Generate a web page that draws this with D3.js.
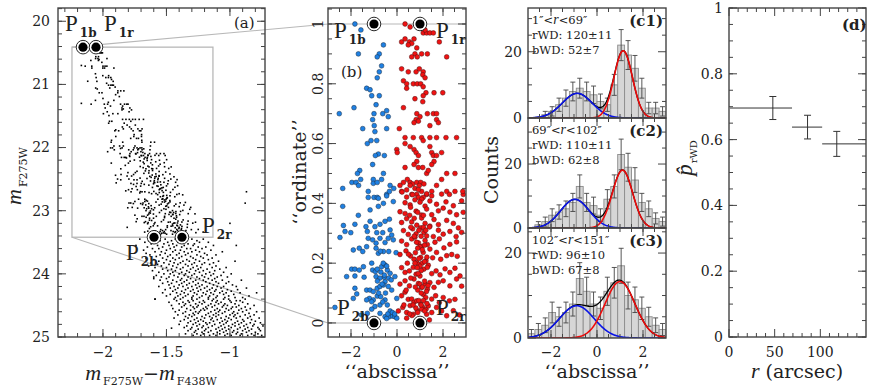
<!DOCTYPE html>
<html>
<head>
<meta charset="utf-8">
<script src="https://cdn.jsdelivr.net/npm/d3@7"></script>
<style>
  body { margin: 0; background: #fff; }
  svg text { font-family: "DejaVu Serif", serif; fill: #222; }
</style>
</head>
<body>
<svg id="chart" width="872" height="387"></svg>
<script>
// ---- fiducial points P1b, P1r, P2b, P2r ----
let fidNames = ['1b', '1r', '2b', '2r']
let fidColor = [-2.157, -2.055, -1.598, -1.378]
let fidMag = [20.41, 20.41, 23.42, 23.42]
let fidAbsc = [-1, 1, -1, 1]
let fidOrd = [1, 1, 0, 0]
let boxColor = [-2.244, -1.134]
let boxMag = [20.41, 23.42]

// ---- panel (b): stars in abscissa / ordinate ----
let blueStars = [
  [-1.83,1.00],[-1.57,0.98],[-1.68,0.90],[-0.59,0.93],[-0.77,0.90],[-0.86,0.89],[-0.67,0.86],[-0.77,0.84],
  [-0.86,0.82],[-1.32,0.785],[-1.17,0.78],[-1.10,0.76],[-0.77,0.76],[-0.91,0.73],[-1.87,0.72],[-2.51,0.70],
  [-0.45,0.71],[-0.62,0.70],[-0.38,0.69],[-1.00,0.70],[-1.06,0.68],[-1.49,0.65],[-0.99,0.66],[-0.45,0.65],
  [-0.96,0.64],[-0.88,0.61],[-1.29,0.60],[-1.13,0.61],[-0.81,0.565],[-0.55,0.56],[-0.94,0.56],[-1.06,0.53],
  [-1.62,0.51],[-1.72,0.50],[-1.96,0.47],[-1.78,0.47],[-1.58,0.48],[-1.67,0.46],[-1.03,0.48],[-1.03,0.467],
  [-0.86,0.47],[-0.59,0.50],[-0.67,0.48],[-0.30,0.46],[-2.36,0.45],[-1.25,0.44],[-1.00,0.42],[-0.86,0.42],
  [-0.45,0.43],[-0.14,0.45],[-2.33,0.326],[-1.83,0.33],[-1.68,0.36],[-1.17,0.378],[-0.81,0.39],[-0.59,0.40],
  [-0.81,0.417],[-1.25,0.42],[-0.45,0.425],[-0.16,0.406],[-0.33,0.44],[-2.48,0.286],[-2.26,0.306],[-2.01,0.302],
  [-1.35,0.322],[-1.17,0.34],[-0.96,0.322],[-0.74,0.33],[-0.52,0.34],[-0.33,0.347],[-1.29,0.306],[-0.88,0.302],
  [-0.62,0.302],[-0.30,0.311],[-0.23,0.294],[-1.25,0.283],[-1.06,0.278],[-0.91,0.267],[-0.74,0.283],[-0.52,0.269],
  [-0.38,0.283],[-0.16,0.278],[-1.90,0.244],[-1.64,0.25],[-1.49,0.239],[-1.32,0.255],[-0.91,0.25],[-0.81,0.233],
  [-0.59,0.239],[-0.36,0.239],[-0.04,0.235],[-1.97,0.18],[-1.83,0.18],[-1.64,0.177],[-1.46,0.188],[-1.10,0.20],
  [-1.06,0.177],[-0.94,0.172],[-0.86,0.18],[-0.67,0.188],[-0.52,0.194],[-0.42,0.177],[-0.30,0.166],[-0.56,0.153],
  [-0.36,0.15],[-0.25,0.144],[-0.09,0.155],[-2.19,0.155],[-1.83,0.157],[-1.43,0.153],[-0.91,0.155],[-0.74,0.15],
  [-0.52,0.138],[-1.83,0.116],[-1.32,0.11],[-1.17,0.11],[-1.03,0.105],[-0.86,0.116],[-0.74,0.122],[-0.59,0.127],
  [-0.38,0.122],[-0.23,0.11],[-1.75,0.097],[-1.20,0.082],[-1.03,0.077],[-0.86,0.09],[-0.71,0.088],[-0.52,0.077],
  [-0.42,0.06],[-0.74,0.06],[-0.96,0.055],[-1.10,0.046],[-1.29,0.032],[-1.54,0.027],[-0.74,0.032],[-0.52,0.021],
  [-0.33,0.021],[-0.19,0.023],[-0.09,0.021],[-0.01,0.016],[-0.45,0.015],[-2.70,0.052],[-0.01,0.082],[-1.32,0.077],
  [-1.10,0.071],[-1.90,0.082],[-2.36,0.39],[-0.60,0.20],[-0.70,0.17],[-0.55,0.16],[-0.65,0.13],[-0.80,0.10],
  [-0.50,0.10],[-0.62,0.07],[-0.85,0.14],[-0.45,0.19],[-0.72,0.24],[-0.30,0.04],[-0.20,0.035],[-0.40,0.03],[-0.10,0.03]
]
let redStars = [
  [0.35,1.00],[0.57,0.99],[0.97,1.00],[1.14,0.97],[1.29,0.97],[1.43,0.97],[1.58,0.97],[1.22,0.98],
  [0.20,0.94],[0.35,0.95],[0.54,0.94],[0.64,0.935],[0.74,0.95],[0.49,0.93],[0.86,0.92],[1.07,0.90],
  [0.78,0.90],[1.32,0.90],[0.64,0.89],[0.88,0.89],[1.84,0.94],[2.16,0.89],[0.20,0.85],[0.49,0.84],
  [0.83,0.84],[0.97,0.85],[1.14,0.84],[1.12,0.83],[1.22,0.82],[0.28,0.81],[0.42,0.80],[0.71,0.80],
  [0.88,0.80],[1.03,0.80],[1.14,0.79],[0.42,0.785],[1.26,0.77],[1.61,0.77],[1.99,0.77],[1.14,0.76],
  [1.12,0.74],[0.78,0.75],[0.28,0.72],[0.86,0.70],[1.00,0.69],[0.83,0.68],[0.93,0.675],[0.74,0.67],
  [1.32,0.70],[1.58,0.70],[1.72,0.70],[1.72,0.68],[1.80,0.67],[1.43,0.66],[0.10,0.65],[0.35,0.62],
  [0.71,0.62],[1.07,0.62],[1.14,0.61],[1.43,0.62],[1.72,0.62],[2.13,0.62],[2.59,0.62],[-0.01,0.58],
  [0.01,0.57],[0.35,0.60],[0.57,0.59],[0.74,0.58],[0.83,0.57],[0.93,0.56],[0.86,0.54],[0.74,0.53],
  [0.93,0.52],[1.12,0.52],[1.29,0.50],[1.43,0.59],[1.51,0.57],[1.58,0.56],[1.61,0.54],[1.51,0.53],
  [1.72,0.56],[1.94,0.57],[1.36,0.51],[2.16,0.50],[2.52,0.50],[0.35,0.52],[0.45,0.48],[0.57,0.47],
  [0.68,0.465],[0.86,0.47],[1.03,0.47],[1.17,0.465],[0.97,0.46],[0.78,0.45],[0.57,0.46],[0.42,0.445],
  [0.20,0.44],[0.64,0.43],[0.86,0.43],[1.07,0.44],[1.29,0.43],[1.51,0.44],[1.72,0.46],[1.94,0.48],
  [2.16,0.44],[2.28,0.43],[2.52,0.44],[2.88,0.43],[0.28,0.47],[0.13,0.46],[0.93,0.42],[1.14,0.42],
  [0.22,0.438],[0.42,0.421],[0.68,0.429],[0.93,0.446],[1.07,0.414],[1.29,0.432],[1.51,0.425],[0.35,0.402],
  [0.57,0.395],[0.78,0.412],[1.00,0.404],[1.22,0.391],[1.43,0.408],[1.72,0.397],[1.94,0.431],[2.13,0.405],
  [2.45,0.392],[2.81,0.408],[2.86,0.44],[0.13,0.372],[0.35,0.366],[0.59,0.387],[0.83,0.374],[1.07,0.361],
  [1.29,0.381],[1.51,0.362],[1.80,0.375],[2.01,0.384],[2.30,0.371],[2.59,0.362],[2.88,0.37],[0.20,0.336],
  [0.42,0.349],[0.64,0.338],[0.86,0.327],[1.07,0.351],[1.22,0.333],[1.43,0.324],[1.61,0.346],[1.80,0.329],
  [2.16,0.343],[2.45,0.333],[2.67,0.318],[0.28,0.309],[0.49,0.296],[0.68,0.315],[0.83,0.298],[1.03,0.318],
  [1.17,0.303],[1.29,0.291],[1.41,0.321],[1.58,0.289],[1.80,0.31],[2.01,0.297],[2.30,0.306],[2.57,0.289],
  [2.81,0.303],[0.20,0.274],[0.42,0.262],[0.64,0.281],[0.78,0.287],[0.93,0.268],[1.07,0.256],[1.22,0.276],
  [1.32,0.262],[1.43,0.247],[1.65,0.27],[1.84,0.281],[2.04,0.251],[2.30,0.263],[2.59,0.271],[0.13,0.229],
  [0.39,0.241],[0.59,0.224],[0.74,0.213],[0.86,0.202],[0.94,0.196],[1.03,0.219],[1.14,0.236],[1.26,0.208],
  [1.36,0.193],[1.55,0.218],[1.72,0.236],[1.90,0.213],[2.16,0.225],[2.38,0.229],[2.62,0.223],[0.20,0.185],
  [0.35,0.169],[0.54,0.174],[0.71,0.186],[0.83,0.163],[1.00,0.157],[1.17,0.18],[1.32,0.186],[1.51,0.165],
  [1.70,0.174],[1.87,0.161],[2.09,0.181],[2.30,0.169],[2.52,0.183],[2.74,0.157],[0.13,0.13],[0.35,0.141],
  [0.54,0.124],[0.74,0.147],[0.93,0.132],[1.07,0.119],[1.22,0.13],[1.32,0.113],[1.43,0.135],[1.61,0.119],
  [1.80,0.136],[2.01,0.141],[2.30,0.124],[2.59,0.147],[2.81,0.123],[0.20,0.091],[0.35,0.103],[0.49,0.079],
  [0.64,0.08],[0.74,0.069],[0.86,0.074],[1.03,0.063],[1.12,0.052],[1.26,0.046],[1.36,0.057],[1.51,0.08],
  [1.68,0.091],[1.84,0.068],[2.01,0.085],[2.28,0.074],[2.52,0.079],[0.06,0.04],[0.25,0.052],[0.42,0.035],
  [0.57,0.058],[0.71,0.029],[0.88,0.041],[1.07,0.046],[1.29,0.029],[1.51,0.035],[1.72,0.052],[1.94,0.04],
  [2.16,0.024],[2.45,0.041],[2.71,0.027],[0.42,0.016],[1.41,0.01],[0.95,0.31],[1.05,0.29],[1.15,0.32],
  [0.85,0.27],[1.25,0.31],[1.00,0.255],[0.90,0.25],[1.10,0.245],[1.20,0.26],[0.75,0.29],[0.80,0.235],
  [0.95,0.215],[1.10,0.20],[1.00,0.19],[0.88,0.185],[0.78,0.20],[1.20,0.205],[1.30,0.22],[1.05,0.175],
  [0.92,0.165],[1.00,0.13],[1.10,0.12],[1.20,0.14],[0.90,0.11],[1.28,0.105],[1.15,0.095],[1.05,0.10],
  [1.35,0.125],[0.80,0.12],[1.25,0.085],[0.95,0.075],[1.05,0.06],[1.15,0.075],[0.82,0.05],[0.90,0.035],
  [1.20,0.04],[1.30,0.065],[0.70,0.06],[0.65,0.025],[0.55,0.03],[0.55,0.36],[0.75,0.35],[0.90,0.37],
  [1.15,0.36],[0.60,0.32],[0.50,0.23],[0.45,0.20],[0.60,0.15],[0.40,0.11],[0.30,0.06]
]

// ---- panel (a): faint stars below the box (colours at each magnitude row) ----
let faintMags = [23.45,23.475,23.50,23.525,23.55,23.575,23.60,23.625,23.65,23.675,23.70,23.725,23.75,23.775,
  23.80,23.825,23.85,23.875,23.90,23.925,23.95,23.975,24.00,24.025,24.05,24.075,24.10,24.125,24.15,24.175,
  24.20,24.225,24.25,24.275,24.30,24.325,24.35,24.375,24.40,24.425,24.45,24.475,24.50,24.525,24.55,24.575,
  24.60,24.625,24.65,24.675,24.70,24.725,24.75,24.775,24.80,24.825,24.85,24.875,24.90,24.925,24.95,24.975]
let faintColors = [
  [-1.71,-1.58,-1.51,-1.43,-1.39,-1.30,-1.21],[-1.64,-1.55,-1.46,-1.35,-1.26],
  [-1.67,-1.60,-1.49,-1.41,-1.37,-1.24,-1.17],[-1.62,-1.52,-1.45,-1.33,-1.28],
  [-1.74,-1.57,-1.48,-1.42,-1.36,-1.29,-1.13],[-1.65,-1.53,-1.44,-1.38,-1.25,-1.19],
  [-1.61,-1.56,-1.47,-1.34,-1.31,-1.22],[-1.68,-1.50,-1.43,-1.39,-1.27,-1.15],
  [-1.59,-1.54,-1.45,-1.36,-1.30,-1.24,-1.06],[-1.66,-1.51,-1.40,-1.33,-1.20],
  [-1.63,-1.55,-1.47,-1.42,-1.35,-1.26,-1.18,-1.11],[-1.58,-1.49,-1.38,-1.31,-1.23],
  [-1.66,-1.53,-1.45,-1.40,-1.29,-1.21,-1.14],[-1.60,-1.50,-1.43,-1.34,-1.27,-1.17],
  [-1.56,-1.47,-1.37,-1.32,-1.24,-1.09,-0.96],[-1.62,-1.52,-1.44,-1.39,-1.28,-1.20,-1.13],
  [-1.57,-1.48,-1.41,-1.35,-1.30,-1.22,-1.16],[-1.64,-1.54,-1.45,-1.33,-1.26,-1.11],
  [-1.59,-1.50,-1.42,-1.37,-1.29,-1.23,-1.14,-1.03],[-1.53,-1.46,-1.39,-1.31,-1.25,-1.18,-1.08],
  [-1.61,-1.49,-1.43,-1.34,-1.27,-1.21,-1.12],[-1.56,-1.45,-1.38,-1.32,-1.24,-1.16,-1.05],
  [-1.52,-1.47,-1.40,-1.35,-1.28,-1.19,-1.13,-0.99],[-1.58,-1.44,-1.36,-1.30,-1.22,-1.15,-1.07],
  [-1.54,-1.48,-1.41,-1.33,-1.26,-1.20,-1.10,-1.02],[-1.60,-1.50,-1.38,-1.31,-1.24,-1.17,-1.12],
  [-1.55,-1.45,-1.39,-1.34,-1.27,-1.21,-1.14,-1.06,-0.91],[-1.49,-1.42,-1.36,-1.29,-1.19,-1.11,-1.01],
  [-1.53,-1.46,-1.38,-1.32,-1.25,-1.16,-1.09,-1.03],[-1.48,-1.40,-1.34,-1.27,-1.22,-1.13,-0.98],
  [-1.56,-1.44,-1.37,-1.30,-1.24,-1.18,-1.10,-1.05,-0.95],[-1.47,-1.41,-1.33,-1.26,-1.20,-1.14,-1.07,-0.87],
  [-1.51,-1.43,-1.35,-1.29,-1.23,-1.16,-1.11,-1.02,-0.94],[-1.45,-1.38,-1.31,-1.25,-1.18,-1.12,-1.06,-0.99],
  [-1.53,-1.42,-1.36,-1.28,-1.21,-1.15,-1.08,-1.03,-0.92],[-1.47,-1.39,-1.33,-1.26,-1.19,-1.13,-1.05,-0.97],
  [-1.50,-1.41,-1.35,-1.29,-1.22,-1.16,-1.10,-1.01,-0.85],[-1.43,-1.37,-1.30,-1.24,-1.17,-1.11,-1.04,-0.96,-0.90],
  [-1.59,-1.44,-1.39,-1.30,-1.26,-1.17,-1.13,-1.05,-1.01,-0.88],[-1.42,-1.33,-1.29,-1.21,-1.14,-1.10,-1.00,-0.95,-0.92],
  [-1.48,-1.37,-1.32,-1.24,-1.20,-1.11,-1.07,-0.99,-0.90],[-1.40,-1.35,-1.27,-1.22,-1.15,-1.09,-1.04,-0.96,-0.86],
  [-1.46,-1.36,-1.31,-1.25,-1.17,-1.12,-1.05,-1.02,-0.93,-0.81],[-1.38,-1.29,-1.26,-1.19,-1.14,-1.06,-0.98,-0.95,-0.88],
  [-1.45,-1.34,-1.28,-1.21,-1.18,-1.10,-1.03,-0.99,-0.91,-0.84],[-1.40,-1.31,-1.23,-1.20,-1.12,-1.08,-1.01,-0.93,-0.87],
  [-1.43,-1.35,-1.27,-1.24,-1.15,-1.09,-1.04,-0.97,-0.90,-0.79],[-1.37,-1.29,-1.25,-1.17,-1.11,-1.06,-0.98,-0.94,-0.85],
  [-1.41,-1.32,-1.28,-1.19,-1.13,-1.09,-1.00,-0.96,-0.88,-0.81],[-1.35,-1.30,-1.22,-1.16,-1.11,-1.03,-0.97,-0.92,-0.84],
  [-1.44,-1.33,-1.26,-1.20,-1.14,-1.07,-1.01,-0.95,-0.86,-0.77],[-1.36,-1.28,-1.23,-1.15,-1.10,-1.04,-0.99,-0.90,-0.83],
  [-1.39,-1.31,-1.25,-1.21,-1.13,-1.06,-1.02,-0.94,-0.89,-0.80],[-1.33,-1.27,-1.19,-1.16,-1.08,-1.03,-0.96,-0.91,-0.84,-0.76],
  [-1.40,-1.29,-1.24,-1.18,-1.12,-1.05,-0.98,-0.93,-0.87,-0.81],[-1.34,-1.26,-1.21,-1.14,-1.07,-1.01,-0.96,-0.89,-0.82,-0.74],
  [-1.36,-1.30,-1.22,-1.17,-1.09,-1.04,-0.99,-0.92,-0.86,-0.78],[-1.31,-1.25,-1.19,-1.11,-1.06,-1.01,-0.94,-0.88,-0.83,-0.77],
  [-1.33,-1.27,-1.20,-1.15,-1.08,-1.03,-0.97,-0.90,-0.85,-0.76],[-1.28,-1.22,-1.17,-1.10,-1.05,-0.98,-0.94,-0.87,-0.80],
  [-1.35,-1.26,-1.21,-1.13,-1.08,-1.02,-0.95,-0.91,-0.83,-0.78],[-1.29,-1.23,-1.16,-1.11,-1.04,-0.99,-0.92,-0.86,-0.81,-0.75]
]
let strayStars = [[-0.87,22.70],[-0.88,22.88],[-0.79,24.30],[-1.59,24.40],[-1.60,24.05],[-1.46,24.86],
  [-0.95,23.55],[-1.00,23.20],[-2.17,21.30],[-2.17,20.70],[-2.12,20.95]]

// ---- panel (c): histograms, bin width 0.3 from -3 ----
let binLeft = [-3,-2.7,-2.4,-2.1,-1.8,-1.5,-1.2,-0.9,-0.6,-0.3,0,0.3,0.6,0.9,1.2,1.5,1.8,2.1,2.4,2.7]
let countsC1 = [0,0,1,2,4,6,8,9,8,7,5,4,10,22,19,15,9,3,3,2]
let countsC2 = [0,1,2,4,5,6,8,13,8,7,4,9,13,23,19,15,8,6,3,2]
let countsC3 = [1,2,3,6,5,6,8,14,11,8,7,11,13,17,10,9,7,5,3,2]
let cYMax = [33.2, 34.4, 25.9]
let fitBlueAmp = [7.45, 8.96, 7.6]
let fitBlueMu = [-0.86, -0.96, -0.88]
let fitBlueSig = [0.65, 0.62, 0.75]
let fitRedAmp = [20.3, 18.1, 13.3]
let fitRedMu = [1.14, 1.11, 1.0]
let fitRedSig = [0.40, 0.44, 0.65]
let rangeLo = ['1', '69', '102']
let rangeHi = ['69', '102', '151']
let rwdText = ['120±11', '110±11', '96±10']
let bwdText = ['52±7', '62±8', '67±8']
let cNames = ['(c1)', '(c2)', '(c3)']

// ---- panel (d): fraction of rWD vs radius ----
let radLo = [1, 69, 102]
let radHi = [69, 102, 151]
let radMid = [48, 86, 118]
let pRwd = [0.696, 0.638, 0.587]
let pErr = [0.035, 0.036, 0.038]

let svg = d3.select('#chart')

// scales
let xA = d3.scaleLinear().domain([-2.354, -0.724]).range([58, 265])
let yA = d3.scaleLinear().domain([25, 19.79]).range([337, 8])
let xB = d3.scaleLinear().domain([-3, 3]).range([328, 466])
let yB = d3.scaleLinear().domain([-0.047, 1.0535]).range([337, 8])
let xC = d3.scaleLinear().domain([-3, 3]).range([528, 666])
let cTop = [8, 118, 228]
let yC = cYMax.map((m, i) => d3.scaleLinear().domain([0, m]).range([cTop[i] + 110, cTop[i]]))
let xD = d3.scaleLinear().domain([0, 150]).range([729, 866])
let yD = d3.scaleLinear().domain([0, 1]).range([337, 8])

let defs = svg.append('defs')
let clipId = 0
let clipTo = (x, y) => {
    let id = 'clip' + (clipId++)
    let [l, r] = x.range(), [b, t] = y.range()
    defs.append('clipPath').attr('id', id)
        .append('rect').attr('x', l).attr('y', t).attr('width', r - l).attr('height', b - t)
    return 'url(#' + id + ')'
}

let drawFrame = (x, y, xMaj, xMin, yMaj, yMin) => {
    let g = svg.append('g').attr('stroke', '#444').attr('fill', 'none').attr('stroke-width', 1)
    let [l, r] = x.range(), [b, t] = y.range()
    let xt = (vals, len) => vals.forEach(v => {
        g.append('line').attr('x1', x(v)).attr('x2', x(v)).attr('y1', b).attr('y2', b - len)
        g.append('line').attr('x1', x(v)).attr('x2', x(v)).attr('y1', t).attr('y2', t + len)
    })
    let yt = (vals, len) => vals.forEach(v => {
        g.append('line').attr('x1', l).attr('x2', l + len).attr('y1', y(v)).attr('y2', y(v))
        g.append('line').attr('x1', r).attr('x2', r - len).attr('y1', y(v)).attr('y2', y(v))
    })
    xt(xMin, 4); xt(xMaj, 8); yt(yMin, 4); yt(yMaj, 8)
    g.append('rect').attr('x', l).attr('y', t).attr('width', r - l).attr('height', b - t)
        .attr('stroke-width', 1.4)
}

let fmt = v => String(v).replace('-', '\u2212')

let xLabels = (x, vals) => {
    svg.append('g').selectAll('text').data(vals).join('text')
        .attr('x', d => x(d)).attr('y', 357).attr('text-anchor', 'middle')
        .attr('font-size', 14).text(d => fmt(d))
}
let yLabels = (y, vals, xPos) => {
    svg.append('g').selectAll('text').data(vals).join('text')
        .attr('x', xPos).attr('y', d => y(d)).attr('dy', '0.35em').attr('text-anchor', 'end')
        .attr('font-size', 14).text(d => fmt(d))
}

let pLabel = (x, y, sub) => {
    let t = svg.append('text').attr('x', x).attr('y', y)
        .style('font-family', '"Liberation Serif", serif').attr('font-size', 23)
    t.append('tspan').text('P')
    t.append('tspan').attr('font-size', 12).attr('font-weight', 'bold')
        .style('font-family', '"DejaVu Serif", serif').attr('dx', 2).attr('dy', 6).text(sub)
}

let fiducialMarks = (x, y, px, py) => {
    let g = svg.append('g')
    fidNames.forEach((n, i) => {
        g.append('circle').attr('cx', x(px[i])).attr('cy', y(py[i])).attr('r', 6.8)
            .attr('fill', '#fff').attr('stroke', '#111').attr('stroke-width', 0.9)
        g.append('circle').attr('cx', x(px[i])).attr('cy', y(py[i])).attr('r', 4.6).attr('fill', '#000')
    })
}

// ================= panel (a) =================
let gray = '#b8b8b8'
svg.append('line').attr('x1', xA(boxColor[0])).attr('y1', yA(boxMag[0]))
    .attr('x2', xB(-3)).attr('y2', yB(1)).attr('stroke', gray).attr('stroke-width', 1.1)
svg.append('line').attr('x1', xA(boxColor[0])).attr('y1', yA(boxMag[1]))
    .attr('x2', xB(-3)).attr('y2', yB(0)).attr('stroke', gray).attr('stroke-width', 1.1)
svg.append('rect').attr('x', xA(boxColor[0])).attr('y', yA(boxMag[0]))
    .attr('width', xA(boxColor[1]) - xA(boxColor[0])).attr('height', yA(boxMag[1]) - yA(boxMag[0]))
    .attr('fill', 'none').attr('stroke', gray).attr('stroke-width', 1.3)

// stars of panel (b) mapped back to colour / magnitude
let aStars = []
blueStars.concat(redStars).forEach(([a, o]) => {
    let m = fidMag[2] + o * (fidMag[0] - fidMag[2])
    let cb = fidColor[2] + o * (fidColor[0] - fidColor[2])
    let cr = fidColor[3] + o * (fidColor[1] - fidColor[3])
    aStars.push([cb + (a + 1) / 2 * (cr - cb), m])
})
faintMags.forEach((m, i) => faintColors[i].forEach(c => aStars.push([c, m])))
strayStars.forEach(s => aStars.push(s))

svg.append('g').attr('clip-path', clipTo(xA, yA))
    .selectAll('rect').data(aStars).join('rect')
    .attr('x', d => xA(d[0]) - 0.8).attr('y', d => yA(d[1]) - 0.8)
    .attr('width', 1.6).attr('height', 1.6).attr('fill', '#000')

fiducialMarks(xA, yA, fidColor, fidMag)
drawFrame(xA, yA, [-2, -1.5, -1], d3.range(-2.3, -0.75, 0.1).map(v => +v.toFixed(2)),
    [20, 21, 22, 23, 24, 25], d3.range(19.8, 25.01, 0.2).map(v => +v.toFixed(2)))
xLabels(xA, [-2, -1.5, -1])
yLabels(yA, [20, 21, 22, 23, 24, 25], 50)
pLabel(65, 31, '1b')
pLabel(104, 31, '1r')
pLabel(202, 233, '2r')
pLabel(126, 260, '2b')
svg.append('text').attr('x', 234).attr('y', 28).attr('font-size', 15).text('(a)')

// y title m_F275W
let ta = svg.append('text').attr('transform', 'translate(21,176) rotate(-90)').attr('text-anchor', 'middle')
ta.append('tspan').style('font-family', '"Liberation Serif", serif').attr('font-style', 'italic').attr('font-size', 22).text('m')
ta.append('tspan').attr('font-size', 11).attr('dx', 2).attr('dy', 6).text('F275W')
// x title m_F275W - m_F438W
let tx = svg.append('text').attr('x', 151).attr('y', 380).attr('text-anchor', 'middle')
tx.append('tspan').style('font-family', '"Liberation Serif", serif').attr('font-style', 'italic').attr('font-size', 22).text('m')
tx.append('tspan').attr('font-size', 11).attr('dx', 2).attr('dy', 5).text('F275W')
tx.append('tspan').attr('font-size', 19).attr('dy', -5).text('\u2212')
tx.append('tspan').style('font-family', '"Liberation Serif", serif').attr('font-style', 'italic').attr('font-size', 22).text('m')
tx.append('tspan').attr('font-size', 11).attr('dx', 2).attr('dy', 5).text('F438W')

// ================= panel (b) =================
svg.append('line').attr('x1', xB(-3)).attr('x2', xB(3)).attr('y1', yB(1)).attr('y2', yB(1))
    .attr('stroke', gray).attr('stroke-width', 1.1)
svg.append('line').attr('x1', xB(-3)).attr('x2', xB(3)).attr('y1', yB(0)).attr('y2', yB(0))
    .attr('stroke', gray).attr('stroke-width', 1.1)

let clipB = clipTo(xB, yB)
svg.append('g').attr('clip-path', clipB).selectAll('circle').data(blueStars).join('circle')
    .attr('cx', d => xB(d[0])).attr('cy', d => yB(d[1])).attr('r', 2.4)
    .attr('fill', '#1f80e2').attr('stroke', '#1b2c40').attr('stroke-width', 0.5)
svg.append('g').attr('clip-path', clipB).selectAll('circle').data(redStars).join('circle')
    .attr('cx', d => xB(d[0])).attr('cy', d => yB(d[1])).attr('r', 2.4)
    .attr('fill', '#f01212').attr('stroke', '#4a1414').attr('stroke-width', 0.5)

fiducialMarks(xB, yB, fidAbsc, fidOrd)
drawFrame(xB, yB, [-2, 0, 2], d3.range(-2.5, 3, 0.5), [0, 0.2, 0.4, 0.6, 0.8, 1],
    d3.range(0, 1.051, 0.05).map(v => +v.toFixed(2)))
xLabels(xB, [-2, 0, 2])
svg.append('g').selectAll('text').data([0, 0.2, 0.4, 0.6, 0.8, 1]).join('text')
    .attr('transform', d => 'translate(318,' + yB(d) + ') rotate(-90)')
    .attr('text-anchor', 'middle').attr('dy', '0.35em').attr('font-size', 14).text(d => fmt(d))
pLabel(334, 38, '1b')
pLabel(436, 38, '1r')
pLabel(337, 315, '2b')
pLabel(436, 315, '2r')
svg.append('text').attr('x', 341).attr('y', 77).attr('font-size', 15).text('(b)')
svg.append('text').attr('transform', 'translate(306,172) rotate(-90)').attr('text-anchor', 'middle')
    .attr('font-size', 19).text('\u2018\u2018ordinate\u2019\u2019')
svg.append('text').attr('x', 397).attr('y', 378).attr('text-anchor', 'middle')
    .attr('font-size', 19).text('\u2018\u2018abscissa\u2019\u2019')

// ================= panel (c) =================
let allCounts = [countsC1, countsC2, countsC3]
let gauss = (A, mu, s) => (x) => A * Math.exp(-(x - mu) * (x - mu) / (2 * s * s))
let xs = d3.range(-3, 3.0001, 0.025)

allCounts.forEach((counts, k) => {
    let y = yC[k]
    let g = svg.append('g').attr('clip-path', clipTo(xC, y))
    g.selectAll('rect').data(counts).join('rect')
        .attr('x', (d, i) => xC(binLeft[i])).attr('width', (d, i) => xC(binLeft[i] + 0.3) - xC(binLeft[i]))
        .attr('y', d => y(d)).attr('height', d => y(0) - y(d))
        .attr('fill', '#d6d6d6').attr('stroke', '#8c8c8c').attr('stroke-width', 0.9)
    counts.forEach((c, i) => {
        if (c <= 0) return
        let cx = xC(binLeft[i] + 0.15), e = Math.sqrt(c)
        g.append('line').attr('x1', cx).attr('x2', cx).attr('y1', y(c - e)).attr('y2', y(c + e))
            .attr('stroke', '#444').attr('stroke-width', 0.9)
        ;[c - e, c + e].forEach(v => g.append('line').attr('x1', cx - 2.5).attr('x2', cx + 2.5)
            .attr('y1', y(v)).attr('y2', y(v)).attr('stroke', '#444').attr('stroke-width', 0.9))
    })
    let fb = gauss(fitBlueAmp[k], fitBlueMu[k], fitBlueSig[k])
    let fr = gauss(fitRedAmp[k], fitRedMu[k], fitRedSig[k])
    let line = f => d3.line().x(d => xC(d)).y(d => y(f(d)))(xs)
    g.append('path').attr('d', line(d => fb(d) + fr(d))).attr('fill', 'none').attr('stroke', '#000').attr('stroke-width', 1.3)
    g.append('path').attr('d', line(fb)).attr('fill', 'none').attr('stroke', '#0a14e6').attr('stroke-width', 1.6)
    g.append('path').attr('d', line(fr)).attr('fill', 'none').attr('stroke', '#ee0a0a').attr('stroke-width', 1.6)

    drawFrame(xC, y, [-2, 0, 2], d3.range(-2.5, 3, 0.5), [0, 20], [5, 10, 15, 25, 30].filter(v => v < cYMax[k]))
    yLabels(y, [0, 20], 522)

    let top = cTop[k]
    let t1 = svg.append('text').attr('x', 532).attr('y', top + 16).attr('font-size', 11.5)
    t1.append('tspan').text(rangeLo[k] + '\u2033<')
    t1.append('tspan').style('font-family', '"Liberation Serif", serif').attr('font-style', 'italic').attr('font-size', 14).text('r')
    t1.append('tspan').text('<' + rangeHi[k] + '\u2033')
    svg.append('text').attr('x', 532).attr('y', top + 31).attr('font-size', 11.5).text('rWD: ' + rwdText[k])
    svg.append('text').attr('x', 532).attr('y', top + 46).attr('font-size', 11.5).text('bWD: ' + bwdText[k])
    svg.append('text').attr('x', 663).attr('y', top + 18).attr('text-anchor', 'end')
        .attr('font-size', 15).attr('font-weight', 'bold').text(cNames[k])
})
xLabels(xC, [-2, 0, 2])
svg.append('text').attr('x', 597).attr('y', 378).attr('text-anchor', 'middle')
    .attr('font-size', 19).text('\u2018\u2018abscissa\u2019\u2019')
svg.append('text').attr('transform', 'translate(498,170) rotate(-90)').attr('text-anchor', 'middle')
    .attr('font-size', 19).text('Counts')

// ================= panel (d) =================
let gd = svg.append('g').attr('stroke', '#333').attr('stroke-width', 1)
pRwd.forEach((p, i) => {
    gd.append('line').attr('x1', xD(radLo[i])).attr('x2', xD(Math.min(radHi[i], 150))).attr('y1', yD(p)).attr('y2', yD(p))
    gd.append('line').attr('x1', xD(radMid[i])).attr('x2', xD(radMid[i])).attr('y1', yD(p - pErr[i])).attr('y2', yD(p + pErr[i]))
    ;[p - pErr[i], p + pErr[i]].forEach(v => gd.append('line').attr('x1', xD(radMid[i]) - 3.5)
        .attr('x2', xD(radMid[i]) + 3.5).attr('y1', yD(v)).attr('y2', yD(v)))
})
drawFrame(xD, yD, [0, 50, 100], d3.range(10, 150, 10).filter(v => v % 50), [0, 0.2, 0.4, 0.6, 0.8, 1],
    d3.range(0, 1.001, 0.05).map(v => +v.toFixed(2)))
xLabels(xD, [0, 50, 100])
yLabels(yD, [0, 0.2, 0.4, 0.6, 0.8, 1], 723)
svg.append('text').attr('x', 842).attr('y', 30).attr('font-size', 15).attr('font-weight', 'bold').text('(d)')
let td = svg.append('text').attr('x', 797).attr('y', 378).attr('text-anchor', 'middle').attr('font-size', 19)
td.append('tspan').style('font-family', '"Liberation Serif", serif').attr('font-style', 'italic').attr('font-size', 22).text('r')
td.append('tspan').text(' (arcsec)')
let tp = svg.append('text').attr('transform', 'translate(692,158) rotate(-90)').attr('text-anchor', 'middle')
tp.append('tspan').style('font-family', '"Liberation Serif", serif').attr('font-style', 'italic').attr('font-size', 23).text('p\u0302')
tp.append('tspan').attr('font-size', 10).attr('dx', 1).attr('dy', 5).text('rWD')
</script>
</body>
</html>
